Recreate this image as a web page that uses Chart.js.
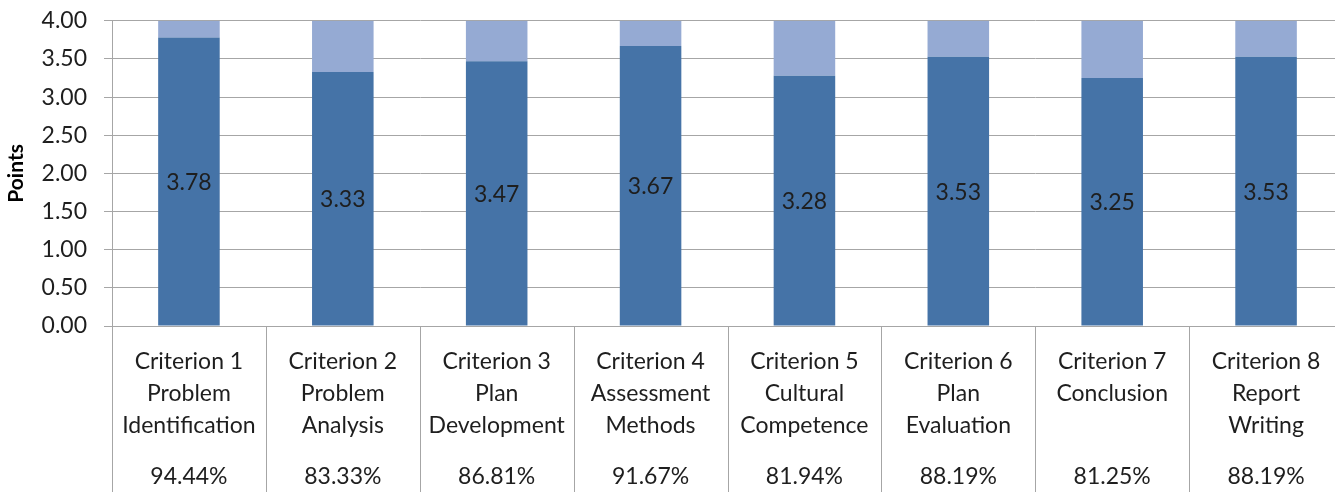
<!DOCTYPE html>
<html><head><meta charset="utf-8">
<script src="https://cdn.jsdelivr.net/npm/chart.js@4.4.1/dist/chart.umd.min.js"></script>
<style>
html,body{margin:0;padding:0;overflow:hidden;background:#fff;width:1335px;height:492px}
#wrap{width:1343px;height:502px;position:relative;margin-top:-10px}
</style></head>
<body><div id="wrap"><canvas id="c" width="1343" height="502"></canvas></div>
<script>
const categories = [
  ["Criterion 1","Problem","Identification"],
  ["Criterion 2","Problem","Analysis"],
  ["Criterion 3","Plan","Development"],
  ["Criterion 4","Assessment","Methods"],
  ["Criterion 5","Cultural","Competence"],
  ["Criterion 6","Plan","Evaluation"],
  ["Criterion 7","Conclusion",""],
  ["Criterion 8","Report","Writing"]
];
const scores = [3.78, 3.33, 3.47, 3.67, 3.28, 3.53, 3.25, 3.53];
const remainders = [0.22, 0.67, 0.53, 0.33, 0.72, 0.47, 0.75, 0.47];
const percentLabels = ["94.44%","83.33%","86.81%","91.67%","81.94%","88.19%","81.25%","88.19%"];
const yMin = 0, yMax = 4, yStep = 0.5;
const axisTitle = "Points";

const FONT = "Lato, 'Open Sans', sans-serif";
const FS = 23;
const TEXT = "#1e1e1e";
const GRID = "#A6A6A6";

const extras = {
  id: 'extras',
  afterDraw(chart) {
    const ctx = chart.ctx;
    const x = chart.scales.x;
    const area = chart.chartArea;
    const H = chart.height;
    ctx.save();
    ctx.strokeStyle = GRID;
    ctx.lineWidth = 1;
    const ax = Math.round(area.left) + 0.5;
    ctx.beginPath(); ctx.moveTo(ax, area.bottom); ctx.lineTo(ax, H); ctx.stroke();
    for (let i = 0; i < categories.length - 1; i++) {
      const px = Math.round((x.getPixelForValue(i) + x.getPixelForValue(i + 1)) / 2) + 0.5;
      ctx.beginPath(); ctx.moveTo(px, area.bottom); ctx.lineTo(px, H); ctx.stroke();
    }
    ctx.fillStyle = TEXT;
    ctx.font = FS + "px " + FONT;
    ctx.textAlign = 'center';
    ctx.textBaseline = 'middle';
    percentLabels.forEach((p, i) => {
      ctx.fillText(p, x.getPixelForValue(i), area.bottom + 151);
    });
    const meta = chart.getDatasetMeta(0);
    meta.data.forEach((bar, i) => {
      ctx.fillText(scores[i].toFixed(2), bar.x, (bar.y + bar.base) / 2 + 1);
    });
    ctx.restore();
  }
};

new Chart(document.getElementById('c'), {
  type: 'bar',
  data: {
    labels: categories,
    datasets: [
      { label: 'Score', data: scores, backgroundColor: '#4573A7', barPercentage: 0.4, categoryPercentage: 1.0 },
      { label: 'Remainder', data: remainders, backgroundColor: '#95AAD3', barPercentage: 0.4, categoryPercentage: 1.0 }
    ]
  },
  options: {
    responsive: false,
    animation: false,
    events: [],
    layout: { padding: { top: 0, right: 0, bottom: 0, left: 0 } },
    plugins: { legend: { display: false }, tooltip: { enabled: false } },
    scales: {
      x: {
        stacked: true,
        grid: { display: false },
        border: { display: false },
        ticks: {
          color: TEXT,
          font: { family: FONT, size: FS, lineHeight: '32px' },
          padding: 12,
          maxRotation: 0,
          autoSkip: false
        },
        afterFit(s) { s.height = 166; }
      },
      y: {
        stacked: true,
        min: yMin, max: yMax,
        grid: { color: GRID, lineWidth: 1, tickLength: 8, drawTicks: true },
        border: { display: true, color: GRID },
        ticks: {
          stepSize: yStep,
          color: TEXT,
          font: { family: FONT, size: FS },
          padding: 17,
          callback: v => Number(v).toFixed(2)
        },
        title: {
          display: true,
          text: axisTitle,
          color: '#000',
          font: { family: FONT, size: 21, weight: 'bold' },
          padding: { top: 4, bottom: 0 }
        },
        afterFit(s) { s.width = 112; }
      }
    }
  },
  plugins: [extras]
});
</script>
</body></html>
